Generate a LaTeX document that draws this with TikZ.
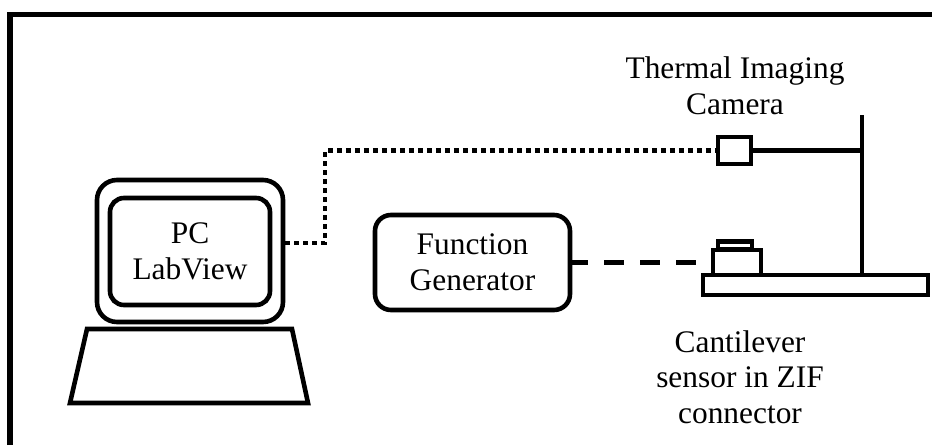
\documentclass[tikz,border=0pt]{standalone}
\usepackage{fontspec}
\setmainfont{Liberation Serif}
\begin{document}
\begin{tikzpicture}[x=0.5pt,y=-0.5pt,line join=miter,
  rbox/.style={draw,line width=2.3pt,rounded corners=8pt,align=center,inner sep=0pt},
  part/.style={draw,line width=2.3pt,inner sep=0pt},
  lbl/.style={align=center,inner sep=0pt},
  wire/.style={line width=2.3pt},
  every node/.style={font=\fontsize{15.7}{17.8}\selectfont}]
%%
  \useasboundingbox (0,0) rectangle (932,445);
  % outer frame
  \draw [line width=2.6pt] (10,445) -- (10,14.5) -- (932,14.5);
%%
  \node (node_monitor) at (190,251) [rbox,rounded corners=10pt,minimum width=93pt,minimum height=71pt] {};
  \node (node_pc) at (190,251.5) [rbox,rounded corners=7pt,minimum width=80pt,minimum height=53.5pt] {PC\\LabView};
  \draw [wire] (87,329) -- (292,329) -- (308,403) -- (70,403) -- cycle;

  \node (node_fgen) at (472.5,262.5) [rbox,minimum width=97.5pt,minimum height=47.5pt] {Function\\Generator};

  \node (node_cam) at (734.5,150.5) [part,minimum width=16.5pt,minimum height=13.5pt] {};
  \coordinate (pole_top) at (862,115);
  \coordinate (pole_bot) at (862,275);
  \coordinate (pole_cam) at (862,150.5);
  \node (node_plate) at (815.5,285) [part,minimum width=112.5pt,minimum height=10pt] {};
  \node (node_zif) at (737,262.5) [part,minimum width=24pt,minimum height=12.5pt] {};
  \node (node_chip) at (735,250) [part,anchor=south,minimum width=17pt,minimum height=4pt,yshift=-1pt] {};

  \node (node_camlbl) at (735,86) [lbl] {Thermal Imaging\\Camera};
  \node (node_ziflbl) at (740,377) [lbl] {Cantilever\\sensor in ZIF\\connector};
%%
  \draw [wire] (pole_top) -- (pole_bot);
  \draw [wire] (node_cam) -- (pole_cam);
  \draw [wire,dash pattern=on 2.5pt off 2pt] (node_monitor.east |- 0,243) -- (325,243) -- (325,150.5) -- (node_cam);
  \draw [wire,dash pattern=on 10pt off 8pt,dash phase=2pt] (node_fgen) -- (node_zif);
%
\end{tikzpicture}
\end{document}
